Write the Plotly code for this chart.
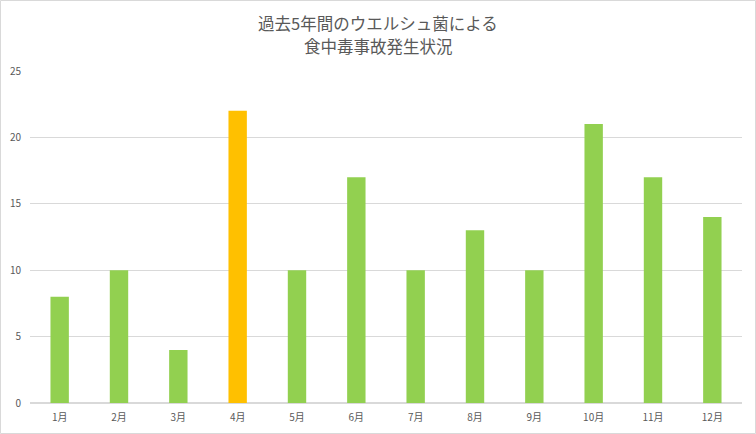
import plotly.graph_objects as go

# データ
months = ['1月', '2月', '3月', '4月', '5月', '6月', '7月', '8月', '9月', '10月', '11月', '12月']
cases = [8, 10, 4, 22, 10, 17, 10, 13, 10, 21, 17, 14]
highlight = '4月'
title_lines = ['過去5年間のウエルシュ菌による', '食中毒事故発生状況']

colors = ['#FFC000' if m == highlight else '#92D050' for m in months]

W, H = 756, 434
L, R, T, B = 30, 14, 71, 31
pw, ph = W - L - R, H - T - B

fig = go.Figure(go.Bar(
    x=months, y=cases,
    marker=dict(color=colors, line=dict(width=0)),
    hoverinfo='x+y',
))

fig.update_layout(
    width=W, height=H,
    margin=dict(l=L, r=R, t=T, b=B, autoexpand=False),
    paper_bgcolor='white', plot_bgcolor='white',
    font=dict(family='Noto Sans CJK JP', color='#595959', size=10),
    bargap=0.69,
    showlegend=False,
    xaxis=dict(showgrid=False, showline=False, ticks='', automargin=False,
               tickfont=dict(size=10), ticklabelstandoff=7),
    yaxis=dict(range=[0, 25], dtick=5, showgrid=True, gridcolor='#D9D9D9',
               zeroline=True, zerolinecolor='#D9D9D9', ticks='', automargin=False,
               tickfont=dict(size=10), ticklabelstandoff=8),
)

# タイトル（2行）
for i, line in enumerate(title_lines):
    fig.add_annotation(
        text=line, showarrow=False, xref='paper', yref='paper',
        x=(W / 2 - L) / pw, xanchor='center',
        y=(H - B - (23 + 23 * i)) / ph, yanchor='middle',
        font=dict(size=16.5, color='#595959'),
    )

# 外枠
fig.add_shape(type='rect', xref='paper', yref='paper',
              x0=(0.5 - L) / pw, x1=(W - 0.5 - L) / pw,
              y0=-(B - 0.5) / ph, y1=(H - B - 0.5) / ph,
              line=dict(color='#D9D9D9', width=1), fillcolor='rgba(0,0,0,0)',
              layer='above')

# ページ余白を消す
fig.write_html('out.html', config={'displayModeBar': False},
               post_script="document.body.style.margin='0';")
